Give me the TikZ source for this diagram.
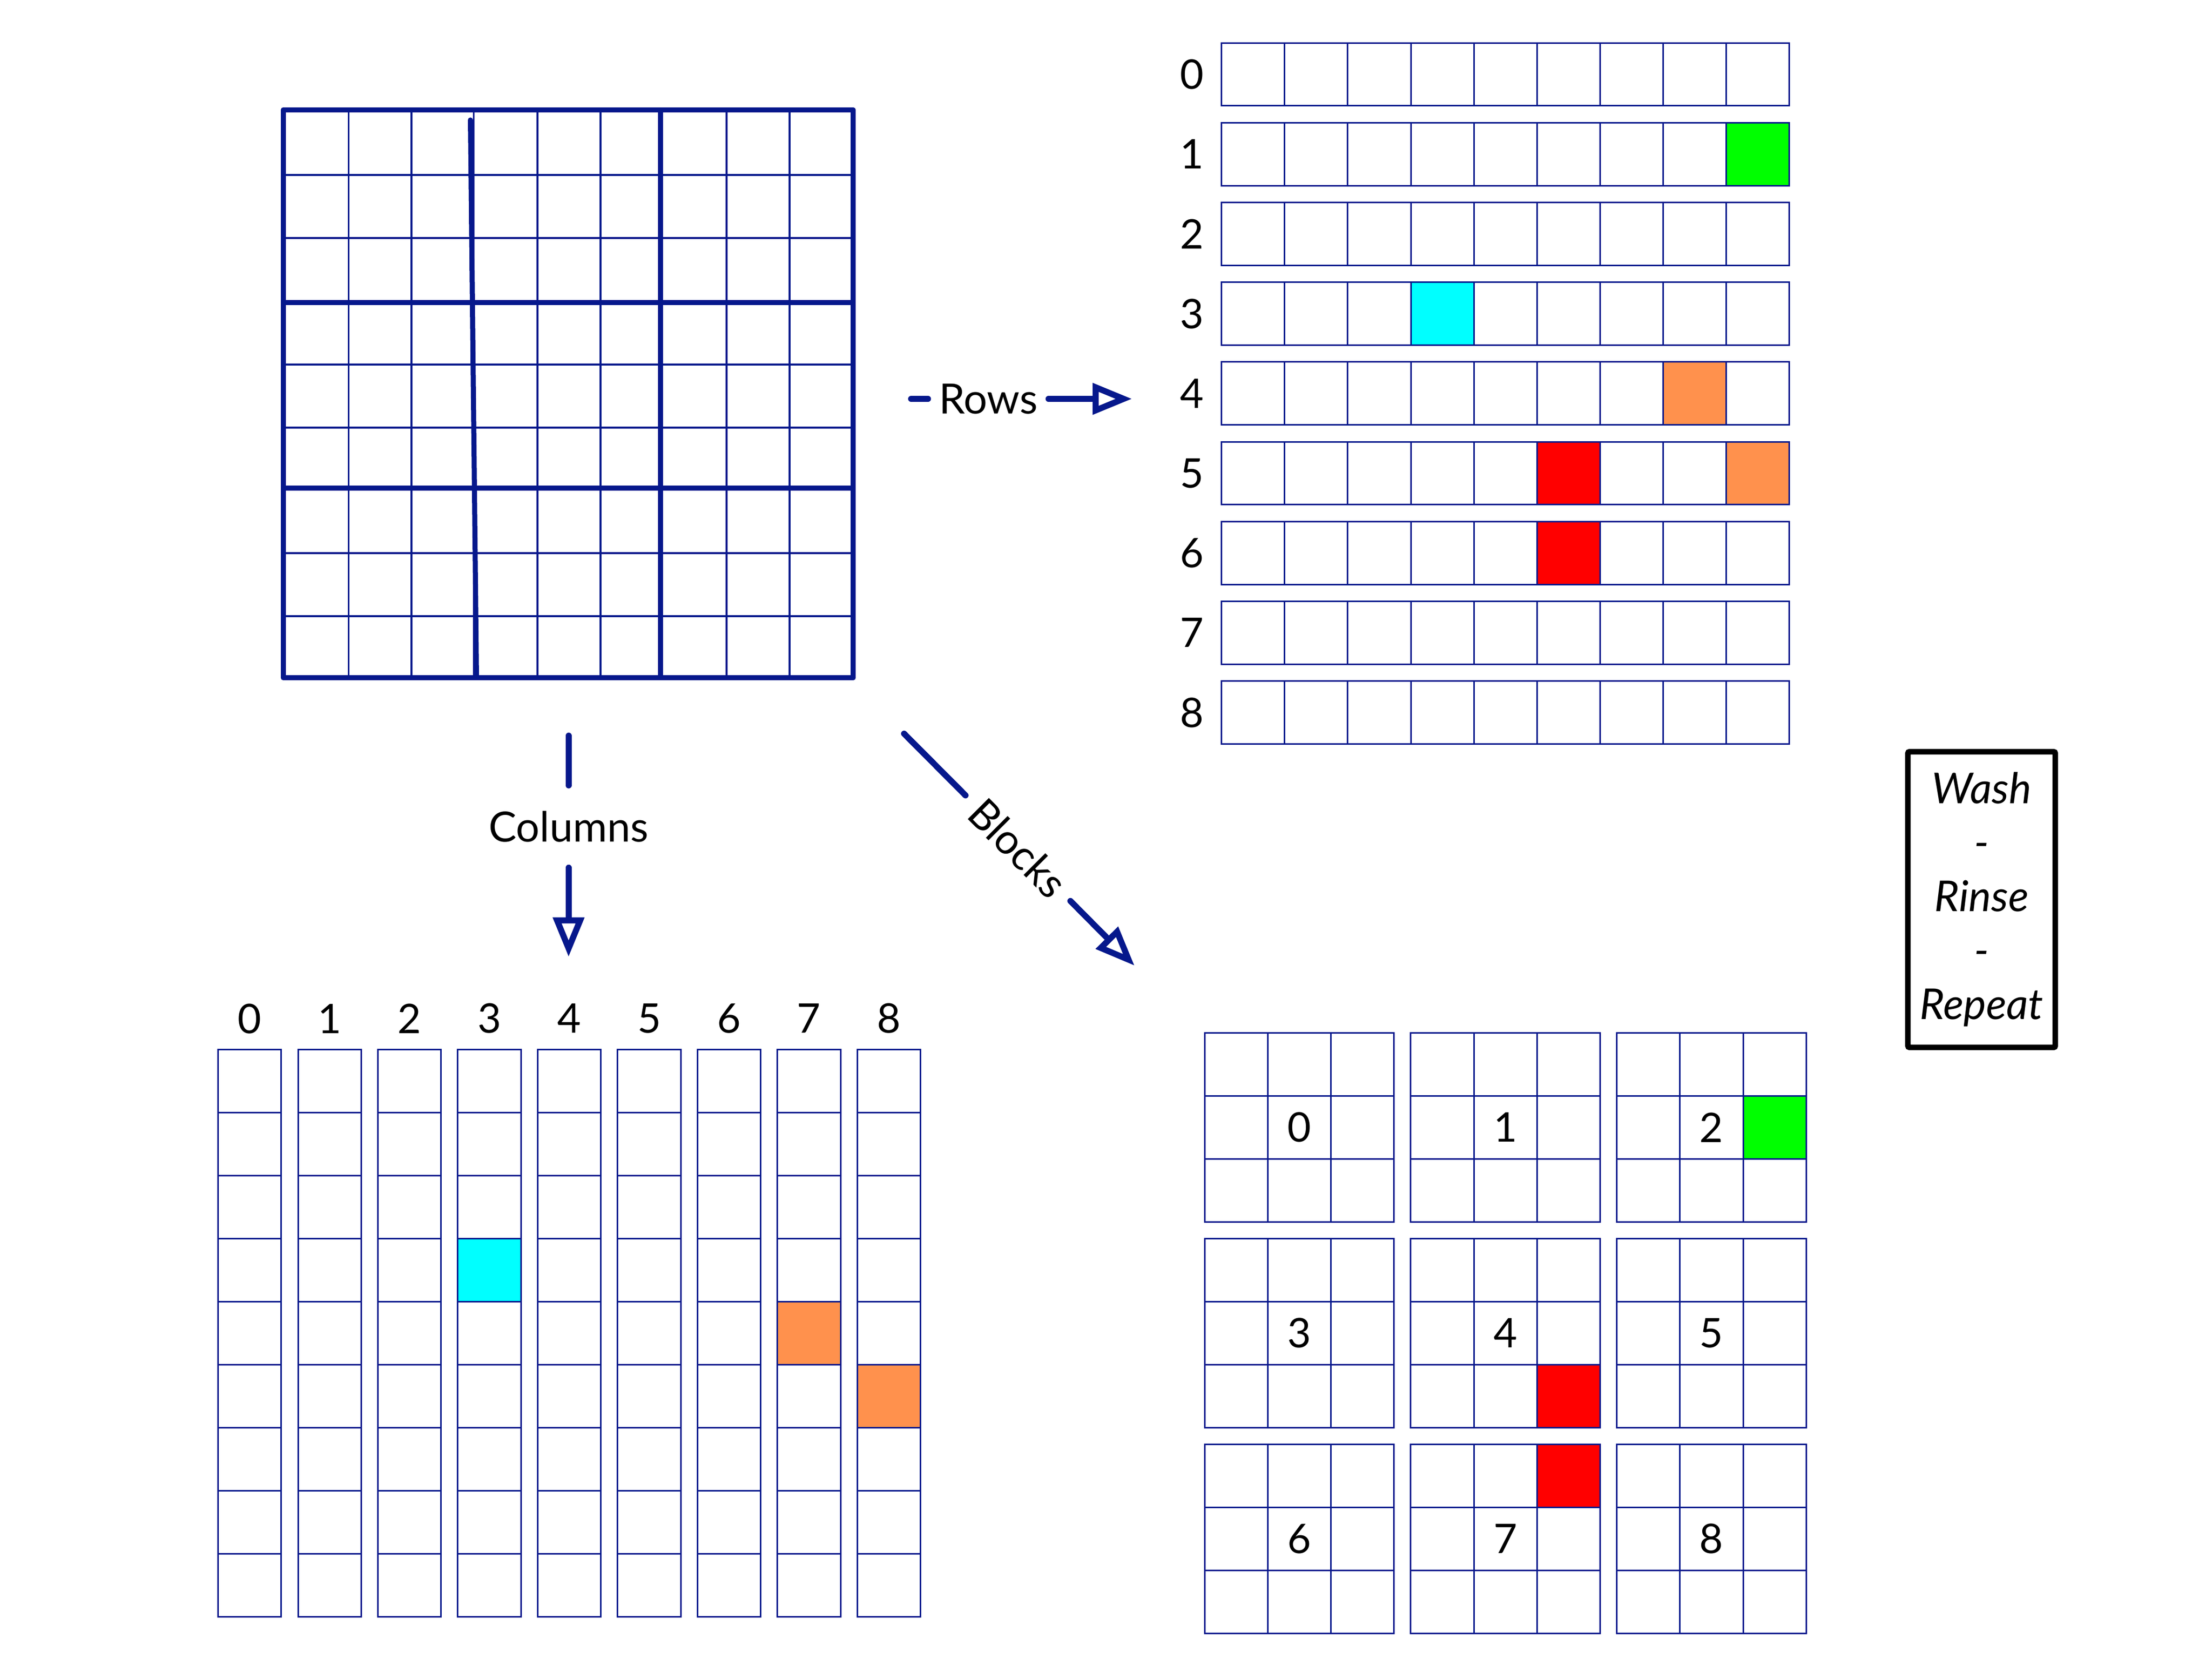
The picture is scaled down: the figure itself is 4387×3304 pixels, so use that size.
\documentclass[tikz,border=0pt]{standalone}
\usepackage{fontspec}
\setmainfont{Lato}
\usetikzlibrary{arrows.meta}
\definecolor{gridblue}{RGB}{6,24,140}
\definecolor{cgreen}{RGB}{0,255,0}
\definecolor{ccyan}{RGB}{0,255,255}
\definecolor{corange}{RGB}{255,145,77}
\definecolor{cred}{RGB}{255,0,0}
\begin{document}
\begin{tikzpicture}[x=0.01cm,y=-0.01cm,
  thinline/.style={draw=gridblue, line width=0.033cm},
  thickline/.style={draw=gridblue, line width=0.1cm, line cap=round},
  cellline/.style={draw=gridblue, line width=0.03cm},
  conn/.style={draw=gridblue, line width=0.12cm, line cap=round, -{Triangle[open, fill=white, length=0.78cm, width=0.6cm]}},
  lbl/.style={font=\fontsize{23.5}{27}\selectfont, inner sep=0pt, outer sep=0pt},
  numlbl/.style={font=\fontsize{23}{27}\selectfont, inner sep=0pt},
  washbox/.style={draw=black, line width=0.11cm, rounded corners=0.03cm, minimum width=2.92cm, minimum height=5.86cm, inner sep=0pt, align=center, font=\itshape\fontsize{24}{30.44}\selectfont},
]
\useasboundingbox[fill=white] (0,0) rectangle (4387,3304);

% ---------- big sudoku grid ----------
\node[inner sep=0pt, minimum width=11.3cm, minimum height=11.26cm] (sudoku) at (1127,781) {};
\foreach \x in {691.5,816,939.5,1066,1191,1441,1566}
  \draw[thinline] (\x,218) -- (\x,1344);
\foreach \y in {347,472,723,848,1097,1222}
  \draw[thinline] (562,\y) -- (1692,\y);
\foreach \x in {562,1309.5,1692}
  \draw[thickline] (\x,218) -- (\x,1344);
\draw[thickline] (933,238) -- (945,1344);
\foreach \y in {218,600,968,1344}
  \draw[thickline] (562,\y) -- (1692,\y);

% ---------- rows ----------
\node[inner sep=0pt, minimum width=11.26cm, minimum height=13.91cm] (rowsgrid) at (2985.7,780.5) {};
\foreach \r in {0,...,8} {
  \pgfmathsetmacro\ry{85.1+158.2*\r}
  \node[numlbl] (rl\r) at (2364,\ry+62.4) {\r};
  \foreach \c in {0,...,8} {
    \pgfmathsetmacro\rx{2422.7+125.1*\c}
    \draw[cellline] (\rx,\ry) rectangle ++(125.1,124.8);
  }
}
\filldraw[cellline, fill=cgreen]  (2422.7+125.1*8,85.1+158.2*1) rectangle ++(125.1,124.8);
\filldraw[cellline, fill=ccyan]   (2422.7+125.1*3,85.1+158.2*3) rectangle ++(125.1,124.8);
\filldraw[cellline, fill=corange] (2422.7+125.1*7,85.1+158.2*4) rectangle ++(125.1,124.8);
\filldraw[cellline, fill=cred]    (2422.7+125.1*5,85.1+158.2*5) rectangle ++(125.1,124.8);
\filldraw[cellline, fill=corange] (2422.7+125.1*8,85.1+158.2*5) rectangle ++(125.1,124.8);
\filldraw[cellline, fill=cred]    (2422.7+125.1*5,85.1+158.2*6) rectangle ++(125.1,124.8);

% ---------- columns ----------
\node[inner sep=0pt, minimum width=13.93cm, minimum height=11.25cm] (colsgrid) at (1129,2643.5) {};
\foreach \c in {0,...,8} {
  \pgfmathsetmacro\cx{432.6+158.45*\c}
  \node[numlbl] (cl\c) at (\cx+62.65,2020) {\c};
  \foreach \r in {0,...,8}
    \draw[cellline] (\cx,2081+125*\r) rectangle ++(125.3,125);
}
\filldraw[cellline, fill=ccyan]   (432.6+158.45*3,2081+125*3) rectangle ++(125.3,125);
\filldraw[cellline, fill=corange] (432.6+158.45*7,2081+125*4) rectangle ++(125.3,125);
\filldraw[cellline, fill=corange] (432.6+158.45*8,2081+125*5) rectangle ++(125.3,125);

% ---------- blocks ----------
\node[inner sep=0pt, minimum width=11.93cm, minimum height=11.92cm] (blocksgrid) at (2985.6,2643.9) {};
\foreach \i in {0,1,2} {
  \foreach \j in {0,1,2} {
    \pgfmathsetmacro\bx{2389+408.8*\j}
    \pgfmathsetmacro\by{2048.1+408*\i}
    \pgfmathtruncatemacro\n{3*\i+\j}
    \foreach \r in {0,1,2} {
      \foreach \c in {0,1,2}
        \draw[cellline] (\bx+125.2*\c,\by+125.2*\r) rectangle ++(125.2,125.2);
    }
    \node[numlbl] (bl\n) at (\bx+187.8,\by+187.8) {\n};
  }
}
\filldraw[cellline, fill=cgreen] (2389+408.8*2+125.2*2,2048.1+125.2) rectangle ++(125.2,125.2);
\filldraw[cellline, fill=cred]   (2389+408.8+125.2*2,2048.1+408+125.2*2) rectangle ++(125.2,125.2);
\filldraw[cellline, fill=cred]   (2389+408.8+125.2*2,2048.1+816) rectangle ++(125.2,125.2);

% ---------- wash box ----------
\node[washbox] (wash) at (3930,1784) {Wash\\-\\Rinse\\-\\Repeat};

% ---------- connectors ----------
\coordinate (rowsStart) at (1807,791);
\coordinate (rowsEnd) at (2245,791);
\node[lbl, minimum width=2.39cm, minimum height=0.8cm] (rowsLbl) at (1960,791) {Rows};
\draw[conn] (rowsStart) -- (rowsLbl) -- (rowsEnd);

\coordinate (colsStart) at (1127.7,1459);
\coordinate (colsEnd) at (1127.7,1897.5);
\node[lbl, minimum width=3.4cm, minimum height=1.63cm] (colsLbl) at (1127.7,1639.2) {Columns};
\draw[conn] (colsStart) -- (colsLbl) -- (colsEnd);

\coordinate (blkStart) at (1793,1455);
\coordinate (blkEnd) at (2250,1915);
\node[lbl, rotate=-45, minimum width=2.95cm, minimum height=0.6cm] (blkLbl) at (2019,1682) {Blocks};
\draw[conn] (blkStart) -- (blkLbl) -- (blkEnd);
\end{tikzpicture}
\end{document}
